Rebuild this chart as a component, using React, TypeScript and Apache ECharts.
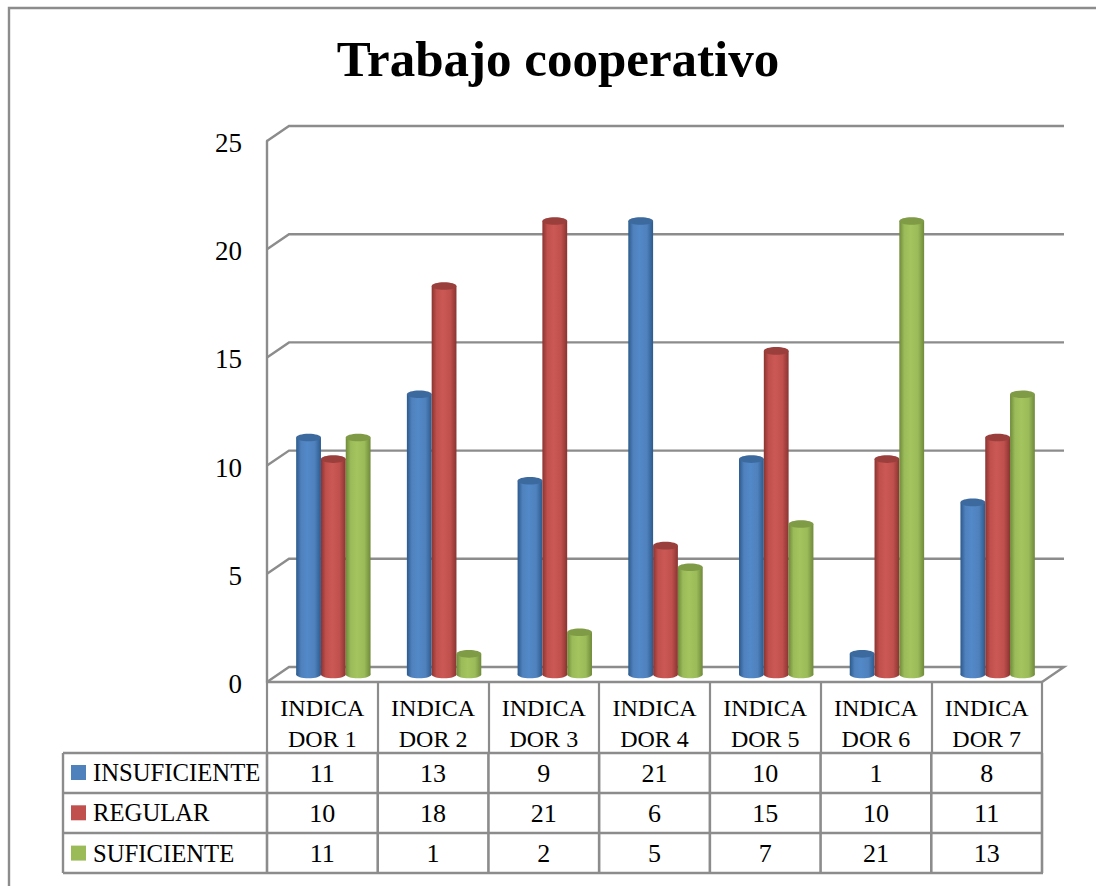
import React, { useEffect, useRef } from "react";
import * as echarts from "echarts";

const titleText = "Trabajo cooperativo";
const categories = ["INDICA\nDOR 1", "INDICA\nDOR 2", "INDICA\nDOR 3", "INDICA\nDOR 4", "INDICA\nDOR 5", "INDICA\nDOR 6", "INDICA\nDOR 7"];
const insuficiente = [11, 13, 9, 21, 10, 1, 8];
const regular = [10, 18, 21, 6, 15, 10, 11];
const suficiente = [11, 1, 2, 5, 7, 21, 13];
const seriesNames = ["INSUFICIENTE", "REGULAR", "SUFICIENTE"];
const yTicks = [0, 5, 10, 15, 20, 25];
const palette = [
  { base: "#4f81bd", light: "#5389c8", dark: "#2c5a8c", top: "#3c6a9f" },
  { base: "#c0504d", light: "#cb5855", dark: "#8a3431", top: "#9a3f3c" },
  { base: "#9bbb59", light: "#a3c45e", dark: "#6f8a3a", top: "#7f9b45" },
];

const FONT = "'Liberation Serif', serif";
const GRID = { left: 267, top: 141, width: 775, height: 541 };
const DEPTH_X = 22;
const DEPTH_Y = 15;
const LINE = "#8c8c8c";
const TABLE_ROWS = [753, 793, 833, 873];
const TABLE_LEFT = 63;

const cylinderSeries = (idx: number, values: number[]) => {
  const c = palette[idx];
  const grad = new echarts.graphic.LinearGradient(0, 0, 1, 0, [
    { offset: 0, color: c.dark },
    { offset: 0.2, color: c.base },
    { offset: 0.45, color: c.light },
    { offset: 0.75, color: c.base },
    { offset: 1, color: c.dark },
  ]);
  return {
    type: "custom",
    name: seriesNames[idx],
    z: 5,
    silent: true,
    itemStyle: { color: c.base },
    data: values.map((v, i) => [i, v]),
    encode: { x: 0, y: 1 },
    renderItem: (_p: any, api: any) => {
      const pt = api.coord([api.value(0), api.value(1)]);
      const base = api.coord([api.value(0), 0]);
      const band = api.size([1, 0])[0];
      const w = band * 0.224;
      const cx = pt[0] + DEPTH_X / 2 + (idx - 1) * w;
      const topY = pt[1] - DEPTH_Y / 2 + 1;
      const baseY = base[1] - DEPTH_Y / 2;
      const rx = w / 2;
      const ry = 3.8;
      return {
        type: "group",
        children: [
          { type: "ellipse", shape: { cx, cy: baseY, rx, ry }, style: { fill: grad } },
          { type: "rect", shape: { x: cx - rx, y: topY, width: w, height: baseY - topY }, style: { fill: grad } },
          { type: "ellipse", shape: { cx, cy: topY, rx, ry }, style: { fill: c.top } },
        ],
      };
    },
  };
};

const wallSeries = {
  type: "custom",
  name: "wall",
  z: 1,
  silent: true,
  data: yTicks.map((t) => [0, t]),
  encode: { x: 0, y: 1 },
  renderItem: (p: any, api: any) => {
    const y = api.coord([0, api.value(1)])[1];
    const x0 = p.coordSys.x;
    const x1 = x0 + p.coordSys.width;
    const pts = api.value(1) === 0
      ? [[x0, y], [x0 + DEPTH_X, y - DEPTH_Y], [x1 + DEPTH_X, y - DEPTH_Y], [x1, y]]
      : [[x0, y], [x0 + DEPTH_X, y - DEPTH_Y], [x1 + DEPTH_X, y - DEPTH_Y]];
    return { type: "polyline", shape: { points: pts }, style: { fill: "none", stroke: LINE, lineWidth: 2.4 } };
  },
};

const tableValues = [insuficiente, regular, suficiente];

const tableSeries = {
  type: "custom",
  name: "table",
  z: 6,
  silent: true,
  data: tableValues.flatMap((vals, r) => vals.map((v, i) => [i, r, v])),
  encode: { x: 0 },
  renderItem: (_p: any, api: any) => {
    const x = api.coord([api.value(0), 0])[0];
    const r = api.value(1);
    return {
      type: "text",
      style: {
        x,
        y: (TABLE_ROWS[r] + TABLE_ROWS[r + 1]) / 2,
        text: String(api.value(2)),
        textAlign: "center",
        textVerticalAlign: "middle",
        fontFamily: FONT,
        fontSize: 26,
        fill: "#000",
      },
    };
  },
};

export default function App() {
  const ref = useRef<HTMLDivElement>(null);
  useEffect(() => {
    document.body.style.margin = "0";
    const chart = echarts.init(ref.current!, undefined, { renderer: "svg" });
    const colW = GRID.width / categories.length;
    const lineEl = (x1: number, y1: number, x2: number, y2: number, w = 2.6) => ({
      type: "line",
      silent: true,
      shape: { x1, y1, x2, y2 },
      style: { stroke: LINE, lineWidth: w },
    });
    const graphics: any[] = [
      {
        type: "rect",
        silent: true,
        shape: { x: 9, y: 8, width: 1300, height: 1100 },
        style: { fill: "none", stroke: LINE, lineWidth: 2.4 },
      },
      ...TABLE_ROWS.map((y) => lineEl(TABLE_LEFT, y, GRID.left + GRID.width + 1, y, 2.4)),
      lineEl(TABLE_LEFT, TABLE_ROWS[0], TABLE_LEFT, TABLE_ROWS[3], 2.4),
      ...Array.from({ length: categories.length + 1 }, (_, k) =>
        lineEl(GRID.left + colW * k, TABLE_ROWS[0], GRID.left + colW * k, TABLE_ROWS[3], 2.6)
      ),
    ];
    chart.setOption({
      animation: false,
      backgroundColor: "#ffffff",
      title: {
        text: titleText,
        left: 553,
        top: 28,
        textAlign: "center",
        textStyle: { fontFamily: FONT, fontWeight: "bold", fontSize: 51, color: "#000" },
      },
      legend: {
        left: 71,
        top: 760,
        orient: "vertical",
        itemWidth: 15,
        itemHeight: 15,
        itemGap: 15.3,
        selectedMode: false,
        padding: 0,
        data: seriesNames.map((name, i) => ({ name, icon: "rect", itemStyle: { color: palette[i].base } })),
        textStyle: { fontFamily: FONT, fontSize: 24.7, color: "#000", padding: [0, 0, 0, 2] },
      },
      grid: { ...GRID },
      xAxis: {
        type: "category",
        data: categories,
        axisLine: { lineStyle: { color: LINE, width: 2.4 } },
        axisTick: { show: true, alignWithLabel: false, length: 71, lineStyle: { color: LINE, width: 2.2 } },
        axisLabel: { fontFamily: FONT, fontSize: 24, color: "#000", margin: 10, lineHeight: 31, interval: 0 },
      },
      yAxis: {
        type: "value",
        min: 0,
        max: 25,
        interval: 5,
        splitLine: { show: false },
        axisTick: { show: false },
        axisLine: { show: true, lineStyle: { color: LINE, width: 2.4 } },
        axisLabel: { fontFamily: FONT, fontSize: 27, color: "#000", margin: 25, verticalAlign: "top", lineHeight: 4 },
      },
      graphic: { elements: graphics },
      series: [
        wallSeries,
        cylinderSeries(0, insuficiente),
        cylinderSeries(1, regular),
        cylinderSeries(2, suficiente),
        tableSeries,
      ],
    });
    return () => chart.dispose();
  }, []);
  return <div ref={ref} style={{ position: "absolute", left: 0, top: 0, width: 1096, height: 886 }} />;
}
